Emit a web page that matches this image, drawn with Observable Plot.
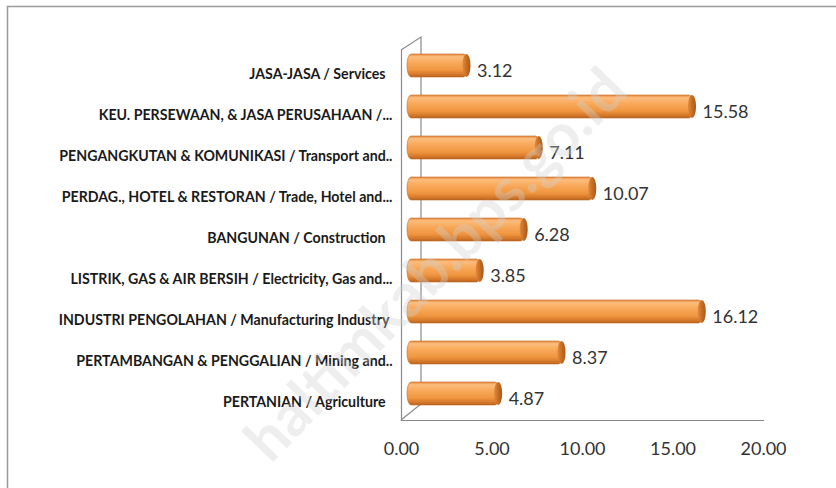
<!DOCTYPE html>
<html>
<head>
<meta charset="utf-8">
<script src="https://cdn.jsdelivr.net/npm/d3@7"></script>
<script src="https://cdn.jsdelivr.net/npm/@observablehq/plot@0.6"></script>
<style>
  html, body { margin: 0; padding: 0; background: #fff; }
  #chart svg { display: block; }
</style>
</head>
<body>
<div id="chart"></div>
<script>
// ---- data ----
const categories = [
  "JASA-JASA / Services\u00a0\u00a0",
  "KEU. PERSEWAAN, & JASA PERUSAHAAN /...",
  "PENGANGKUTAN & KOMUNIKASI / Transport and..",
  "PERDAG., HOTEL & RESTORAN / Trade, Hotel and...",
  "BANGUNAN / Construction\u00a0\u00a0",
  "LISTRIK, GAS & AIR BERSIH / Electricity, Gas and...",
  "INDUSTRI PENGOLAHAN / Manufacturing Industry\u00a0",
  "PERTAMBANGAN & PENGGALIAN / Mining and..",
  "PERTANIAN / Agriculture\u00a0\u00a0"
];
const values = [3.12, 15.58, 7.11, 10.07, 6.28, 3.85, 16.12, 8.37, 4.87];
const xTicks = [0, 5, 10, 15, 20];
const watermark = ["haltimkab.bps.go.id"];

const data = categories.map((c, i) => ({cat: c, value: values[i]}));

const FONT = "Lato, 'Open Sans', sans-serif";
const depthX = 20, depthYTop = 13, depthYBottom = 16;

// 3D wall decoration drawn through the plot's scales and dimensions
function wall3d(index, scales, values, dims) {
  const g = d3.create("svg:g").attr("fill", "none").attr("stroke", "#8a8a8a").attr("stroke-width", 1.2);
  const x0 = scales.x(0);
  const yT = dims.marginTop, yB = dims.height - dims.marginBottom;
  g.append("path").attr("d",
    `M${x0},${yT}L${x0 + depthX},${yT - depthYTop}L${x0 + depthX},${yB - depthYBottom}L${x0},${yB}`);
  // outer chart-area border (left and top)
  g.append("path").attr("stroke", "#9a9a9a").attr("stroke-width", 1.5)
    .attr("d", `M7.5,${dims.height}L7.5,6.5L${dims.width},6.5`);
  return g.node();
}

const inset = 9;
const chart = Plot.plot({
  width: 836,
  height: 488,
  marginLeft: 401,
  marginRight: 73,
  marginTop: 50,
  marginBottom: 68,
  style: {fontFamily: FONT, background: "#fff", color: "#333"},
  x: {domain: [0, 20]},
  y: {domain: categories, padding: 0},
  marks: [
    wall3d,
    Plot.frame({anchor: "left", stroke: "#8a8a8a", strokeWidth: 1.2}),
    Plot.frame({anchor: "bottom", stroke: "#8a8a8a", strokeWidth: 1.2}),
    Plot.axisX({ticks: xTicks, tickSize: 0, tickPadding: 22, tickFormat: d => d.toFixed(2),
      fontSize: 18, fill: "#333", label: null}),
    Plot.axisY({tickSize: 0, tickPadding: 9, fontSize: 14.2, fontWeight: "bold",
      fill: "#1a1a1a", label: null, dy: 2}),
    Plot.barX(data, {x1: 0, x2: "value", y: "cat", dx: 10, dy: -6,
      insetLeft: -4, insetTop: inset, insetBottom: inset, rx: 4, ry: 11,
      fill: "url(#cylGrad)", stroke: "#c46d25", strokeWidth: 0.6}),
    Plot.barX(data, {x1: "value", x2: "value", y: "cat", dx: 10, dy: -6,
      insetLeft: -5, insetRight: -3, insetTop: inset, insetBottom: inset, rx: 4, ry: 11,
      fill: "url(#capGrad)"}),
    Plot.text(data, {x: "value", y: "cat", text: d => d.value.toFixed(2), dx: 19, dy: -1,
      textAnchor: "start", fontSize: 18, fill: "#333"}),
    Plot.text(watermark, {frameAnchor: "middle", dx: -146, dy: 30, rotate: -46,
      fontSize: 60, fontWeight: "bold", fill: "#d0d0d0", fillOpacity: 0.36})
  ]
});

const svg = d3.select(chart.tagName === "svg" ? chart : chart.querySelector("svg"));
const defs = svg.insert("defs", ":first-child");
const g1 = defs.append("linearGradient").attr("id", "cylGrad").attr("x1", 0).attr("y1", 0).attr("x2", 0).attr("y2", 1);
[[0, "#e8883a"], [0.12, "#fbbd7e"], [0.35, "#f9ab5c"], [0.7, "#f0953f"], [0.9, "#d27629"], [1, "#b5601d"]]
  .forEach(([o, c]) => g1.append("stop").attr("offset", o).attr("stop-color", c));
const g2 = defs.append("linearGradient").attr("id", "capGrad").attr("x1", 0).attr("y1", 0).attr("x2", 1).attr("y2", 0);
[[0, "#e08a3c"], [0.5, "#c76d24"], [1, "#a9581a"]]
  .forEach(([o, c]) => g2.append("stop").attr("offset", o).attr("stop-color", c));

document.getElementById("chart").appendChild(chart);
</script>
</body>
</html>
